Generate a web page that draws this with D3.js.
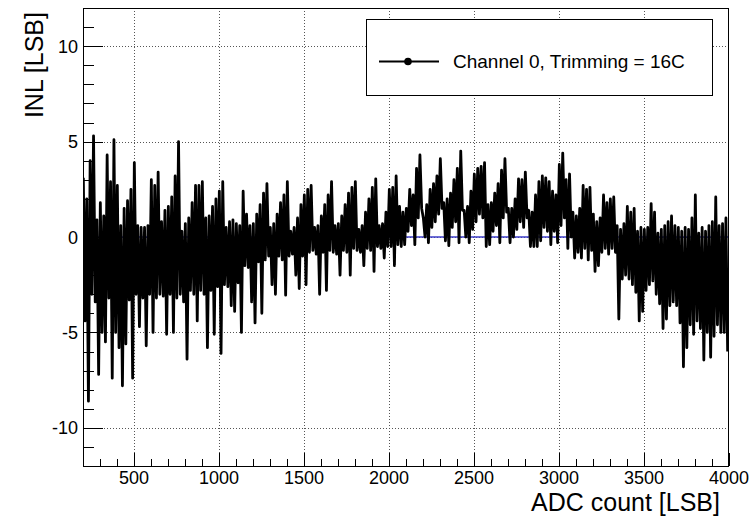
<!DOCTYPE html>
<html>
<head>
<meta charset="utf-8">
<script src="https://cdn.jsdelivr.net/npm/d3@7"></script>
<style>
  body { margin: 0; background: #fff; }
  svg { display: block; font-family: "Liberation Sans", Arial, sans-serif; }
</style>
</head>
<body>
<svg width="756" height="517"></svg>
<script>
// INL per 20-count bin: upper and lower excursion in each bin
const adcStart = 200;
const adcBin = 20;
const inlHigh = [
    3.1, 2.0, 4.0, 5.3, 0.9, 1.8, 1.1, 4.3, 2.9, 5.1, 2.7, 0.6, 1.5, 1.9, 2.5, 3.9,
    0.6, 0.5, 0.5, 0.6, 3.0, 2.7, 3.4, 0.8, 1.4, 1.6, 2.1, 3.2, 5.0, 0.3, 0.7, 1.0,
    1.8, 2.7, 2.7, 2.9, 1.0, 1.1, 1.6, 2.0, 2.4, 2.9, 0.5, 0.8, 0.9, 0.7, 0.6, 2.4,
    1.2, 0.6, 0.7, 1.2, 1.7, 2.3, 2.8, 0.5, 0.7, 1.2, 1.8, 2.2, 2.9, 0.3, 0.5, 1.0,
    1.7, 2.2, 2.5, 2.7, 0.5, 0.6, 1.1, 1.7, 2.2, 2.9, 0.6, 0.7, 1.1, 1.7, 2.3, 2.6,
    2.9, 0.4, 0.6, 1.3, 2.0, 2.6, 3.05, 0.6, 0.7, 1.3, 2.5, 2.6, 3.2, 1.6, 1.3,
    1.5, 2.5, 2.2, 3.6, 4.3, 1.0, 1.7, 2.5, 2.8, 3.2, 4.1, 1.8, 2.0, 2.3, 3.0, 3.6,
    4.5, 1.4, 1.6, 2.4, 3.3, 3.6, 3.7, 3.9, 1.7, 1.8, 2.3, 2.8, 3.5, 4.1, 1.5, 1.5,
    2.0, 3.05, 3.0, 3.4, 1.4, 1.3, 2.2, 2.9, 3.2, 3.1, 2.9, 2.4, 2.2, 3.8, 4.4, 3.0, 3.3,
    1.3, 1.1, 1.5, 2.7, 2.5, 2.6, 1.2, 0.8, 1.0, 2.2, 1.8, 2.0, 2.1, 0.6, 0.4, 0.7,
    1.6, 1.3, 1.5, 0.3, 0.5, 0.4, 0.5, 1.75, 1.3, 0.2, 0.4, 0.6, 0.8, 1.1, 0.6, 0.5,
    0.3, 0.5, 0.4, 1.0, 2.2, 0.2, 0.5, 0.3, 0.6, 0.8, 2.1, 0.6, 0.7, 1.0
];
const inlLow = [
    -4.4, -8.6, -3.0, -3.4, -7.2, -5.0, -5.5, -3.2, -7.4, -5.0, -5.8, -7.8, -5.6, -3.3, -7.4, -3.0,
    -4.7, -3.2, -5.7, -3.0, -5.0, -3.2, -3.0, -3.1, -5.1, -3.0, -5.0, -3.2, -3.0, -3.4, -6.4, -2.8,
    -3.0, -4.4, -2.8, -3.0, -5.8, -2.8, -5.1, -2.6, -6.1, -2.5, -2.6, -3.6, -3.9, -2.4, -5.0, -1.5,
    -1.6, -3.4, -4.5, -1.3, -4.0, -1.2, -1.0, -2.5, -3.0, -1.0, -1.2, -3.05, -1.0, -0.9, -2.0, -2.7,
    -1.0, -2.5, -0.8, -0.7, -0.9, -3.0, -0.8, -2.8, -0.7, -0.8, -0.9, -2.0, -0.7, -0.8, -2.0, -0.6,
    -0.7, -0.8, -1.5, -0.6, -0.7, -1.8, -0.5, -0.6, -1.1, -0.5, -0.5, -1.5, -0.4, -0.5, -0.4,
    0.3, 0.6, -0.4, 1.0, 1.5, 0.0, -0.3, 0.5, 0.8, 1.2, 1.5, -0.2, -0.45, 0.5, 0.8, -0.3,
    1.4, 0.0, -0.3, 0.4, 0.8, 1.2, 1.0, -0.5, -0.4, 0.3, 0.6, -0.3, 1.0, 1.3, -0.3, 0.0,
    0.4, 0.8, 0.5, 1.0, -0.5, -0.5, -0.5, -0.2, 0.5, 0.3, -0.4, 0.3, -0.3, 0.6, 1.0, -0.6, 0.0,
    -1.1, -0.8, -1.1, -0.6, -1.2, -0.7, -1.8, -1.5, -0.8, -0.6, -0.9, -0.6, -0.8, -4.3, -2.2, -2.0,
    -2.2, -2.5, -2.9, -4.4, -3.9, -2.8, -2.5, -2.3, -3.0, -3.5, -4.8, -4.3, -3.6, -3.4, -3.6, -4.5,
    -6.8, -5.8, -4.6, -5.1, -4.4, -4.8, -6.45, -5.0, -6.3, -5.2, -4.6, -5.0, -5.0, -6.0
];
const xTicks = [500, 1000, 1500, 2000, 2500, 3000, 3500, 4000];
const yTicks = [-10, -5, 0, 5, 10];
const legendLabel = 'Channel 0, Trimming = 16C';

const svg = d3.select('svg');
const frame = { left: 83, right: 729, top: 8, bottom: 466 };

const xScale = d3.scaleLinear()
    .domain([200, 4000])
    .range([frame.left, frame.right]);
const yScale = d3.scaleLinear()
    .domain([-12, 12])
    .range([frame.bottom, frame.top]);

// Grid (dotted, major ticks only)
svg.append('g')
    .selectAll('line')
    .data(xTicks.filter(d => d < 4000))
    .join('line')
    .attr('x1', d => Math.round(xScale(d)) + 0.5)
    .attr('x2', d => Math.round(xScale(d)) + 0.5)
    .attr('y1', frame.top)
    .attr('y2', frame.bottom)
    .attr('stroke', '#555')
    .attr('stroke-dasharray', '1,2');
svg.append('g')
    .selectAll('line')
    .data(yTicks)
    .join('line')
    .attr('x1', frame.left)
    .attr('x2', frame.right)
    .attr('y1', d => Math.round(yScale(d)) + 0.5)
    .attr('y2', d => Math.round(yScale(d)) + 0.5)
    .attr('stroke', '#555')
    .attr('stroke-dasharray', '1,2');

svg.append('clipPath').attr('id', 'plot-clip')
    .append('rect')
    .attr('x', frame.left).attr('y', frame.top)
    .attr('width', frame.right - frame.left)
    .attr('height', frame.bottom - frame.top);

// Zero reference line
svg.append('line')
    .attr('x1', frame.left)
    .attr('x2', frame.right)
    .attr('y1', yScale(0))
    .attr('y2', yScale(0))
    .attr('stroke', '#3c3cc8')
    .attr('stroke-width', 1.5);

// INL trace: each bin goes up to its high and down to its low
const points = [];
inlHigh.forEach((v, i) => {
    points.push({ adc: adcStart + adcBin * i + 2, inl: v });
    points.push({ adc: adcStart + adcBin * i + 12, inl: inlLow[i] });
});
const line = d3.line()
    .x(d => xScale(d.adc))
    .y(d => yScale(d.inl));
svg.append('path')
    .datum(points)
    .attr('clip-path', 'url(#plot-clip)')
    .attr('d', line)
    .attr('fill', 'none')
    .attr('stroke', 'black')
    .attr('stroke-width', 2.8)
    .attr('stroke-linejoin', 'round');

// Ticks
const ax = svg.append('g');
ax.selectAll('line.xt')
    .data(d3.range(200, 4001, 100))
    .join('line')
    .attr('x1', d => Math.round(xScale(d)) + 0.5)
    .attr('x2', d => Math.round(xScale(d)) + 0.5)
    .attr('y1', frame.bottom)
    .attr('y2', d => frame.bottom - (d % 500 === 0 ? 13 : 7))
    .attr('stroke', 'black');
ax.selectAll('line.yt')
    .data(d3.range(-12, 13, 1))
    .join('line')
    .attr('x1', frame.left)
    .attr('x2', d => frame.left + (d % 5 === 0 ? 20 : 11))
    .attr('y1', d => Math.round(yScale(d)) + 0.5)
    .attr('y2', d => Math.round(yScale(d)) + 0.5)
    .attr('stroke', 'black');

svg.append('g').selectAll('text')
    .data(xTicks)
    .join('text')
    .text(d => d)
    .attr('x', d => xScale(d))
    .attr('y', 483.5)
    .style('text-anchor', 'middle')
    .style('font-size', '18px');
svg.append('g').selectAll('text')
    .data(yTicks)
    .join('text')
    .text(d => d)
    .attr('x', 78)
    .attr('y', d => yScale(d) + 6.5)
    .style('text-anchor', 'end')
    .style('font-size', '18px');

// Frame
svg.append('rect')
    .attr('x', frame.left + 0.5)
    .attr('y', frame.top + 0.5)
    .attr('width', frame.right - frame.left - 1)
    .attr('height', frame.bottom - frame.top)
    .attr('fill', 'none')
    .attr('stroke', 'black');

// Labels
svg.append('text')
    .text('ADC count [LSB]')
    .attr('x', 720)
    .attr('y', 510.5)
    .style('text-anchor', 'end')
    .style('font-size', '25px');
svg.append('text')
    .text('INL [LSB]')
    .attr('transform', 'translate(43, 12) rotate(-90)')
    .style('text-anchor', 'end')
    .style('font-size', '25px');

// Legend
const legend = svg.append('g');
legend.append('rect')
    .attr('x', 366.5).attr('y', 19.5)
    .attr('width', 346).attr('height', 76)
    .attr('fill', 'white')
    .attr('stroke', 'black');
legend.append('line')
    .attr('x1', 379).attr('x2', 439)
    .attr('y1', 61.5).attr('y2', 61.5)
    .attr('stroke', 'black')
    .attr('stroke-width', 2);
legend.append('circle')
    .attr('cx', 408).attr('cy', 61.5)
    .attr('r', 3.8)
    .attr('fill', 'black');
legend.append('text')
    .text(legendLabel)
    .attr('x', 453)
    .attr('y', 68)
    .style('font-size', '19px');
</script>
</body>
</html>
